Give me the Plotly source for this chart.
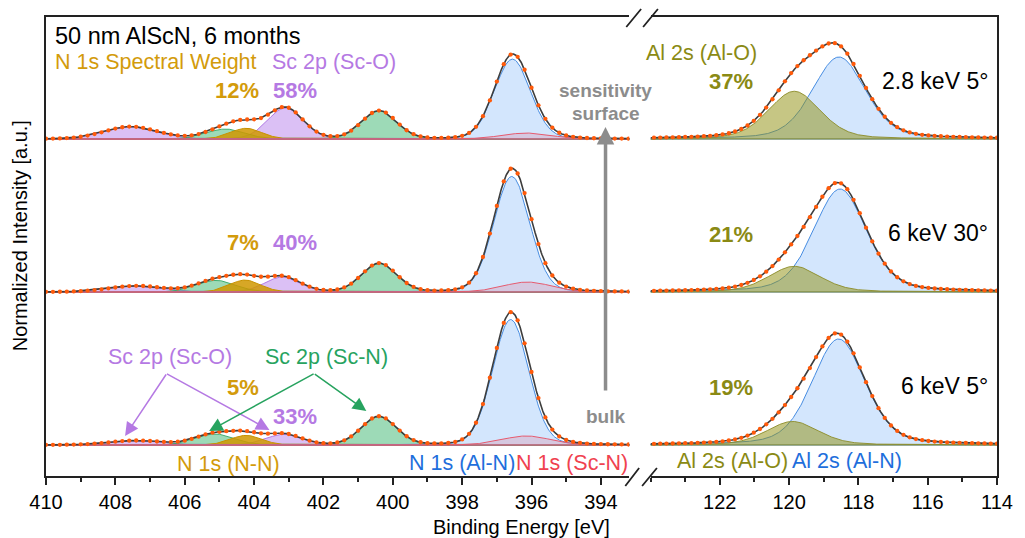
import numpy as np
import plotly.graph_objects as go

# ---------------- data ----------------
# spectra order: bottom, middle, top
spectrum_labels = ["6 keV 5°", "6 keV 30°", "2.8 keV 5°"]
offsets = [0.0, 1.0, 2.0]

# N 1s / Sc 2p region components: centers [eV], heights [norm.], FWHM [eV]
sco_a_center = [407.4, 407.4, 407.55]
sco_a_height = [0.028, 0.039, 0.080]
sco_a_fwhm = 1.8

scn_a_center = [405.13, 405.1, 404.83]
scn_a_height = [0.072, 0.076, 0.065]
scn_a_fwhm = 1.3

nn_center = [404.23, 404.26, 404.23]
nn_height = [0.063, 0.078, 0.070]
nn_fwhm = 1.05

sco_b_center = [403.14, 403.18, 403.1]
sco_b_height = [0.070, 0.098, 0.203]
sco_b_fwhm = 1.2

scn_b_center = [400.4, 400.39, 400.39]
scn_b_height = [0.185, 0.186, 0.183]
scn_b_fwhm = 1.18

aln_n_center = [396.6, 396.57, 396.55]
aln_n_height = [0.82, 0.755, 0.522]
aln_n_fwhm = 1.22

scn_n_center = [396.15, 396.12, 396.15]
scn_n_height = [0.059, 0.065, 0.039]
scn_n_fwhm = 1.65

# Al 2s region components
alo_center = [119.9, 119.85, 119.85]
alo_height = [0.154, 0.168, 0.312]
alo_fwhm = 1.76

aln_al_center = [118.57, 118.53, 118.56]
aln_al_height = [0.693, 0.673, 0.536]
aln_al_fwhm = 1.8

# percentages
n1s_weight_pct = ["5%", "7%", "12%"]
sco_pct = ["33%", "40%", "58%"]
alo_pct = ["19%", "21%", "37%"]

left_range = [410, 393.125]
right_range = [124, 114]
left_ticks = [410, 408, 406, 404, 402, 400, 398, 396, 394]
right_ticks = [122, 120, 118, 116, 114]

# ---------------- styling ----------------
FONT = "Liberation Sans, Arial, sans-serif"
GOLD = "#d39b0b"
PURPLE = "#b579e3"
GREEN = "#27a35f"
BLUE = "#1f6fdc"
RED = "#f0424f"
OLIVE = "#8a8a14"
GRAY = "#8c8c8c"

L, R, T, B = 46, 17, 17, 62
W, H = 1025, 538
PW, PH = W - L - R, H - T - B


def px(x):
    return (x - L) / PW


def py(y):
    return (H - B - y) / PH


def pvoigt(x, c, h, f, eta):
    d2 = 4.0 * (x - c) ** 2 / f ** 2
    return h * ((1 - eta) * np.exp(-np.log(2) * d2) + eta / (1 + d2))


fig = go.Figure()

xl = np.arange(393.0, 410.001, 0.02)
xl_dots = np.arange(393.0, 410.001, 0.2)
xr = np.arange(114.0, 124.001, 0.02)
xr_dots = np.arange(114.0, 124.001, 0.18)

left_comps = [
    (sco_a_center, sco_a_height, sco_a_fwhm, "rgba(190,140,236,0.55)", "rgba(170,110,225,0.9)"),
    (sco_b_center, sco_b_height, sco_b_fwhm, "rgba(190,140,236,0.55)", "rgba(170,110,225,0.9)"),
    (scn_a_center, scn_a_height, scn_a_fwhm, "rgba(60,182,112,0.5)", "rgba(50,165,100,0.9)"),
    (scn_b_center, scn_b_height, scn_b_fwhm, "rgba(60,182,112,0.5)", "rgba(50,165,100,0.9)"),
    (nn_center, nn_height, nn_fwhm, "rgba(208,152,0,0.85)", "rgba(200,145,0,1)"),
    (aln_n_center, aln_n_height, aln_n_fwhm, "rgba(150,195,250,0.42)", "rgba(70,140,225,1)"),
    (scn_n_center, scn_n_height, scn_n_fwhm, "rgba(225,110,140,0.25)", "rgba(230,90,110,1)"),
]
right_comps = [
    (aln_al_center, aln_al_height, aln_al_fwhm, "rgba(150,195,250,0.42)", "rgba(70,140,225,1)"),
    (alo_center, alo_height, alo_fwhm, "rgba(145,145,20,0.52)", "rgba(140,140,40,0.9)"),
]

for i, off in enumerate(offsets):
    # left panel
    total_l = np.zeros_like(xl)
    total_ld = np.zeros_like(xl_dots)
    for cen, hei, fw, fc, lc in left_comps:
        y = pvoigt(xl, cen[i], hei[i], fw, 0.1)
        total_l += y
        total_ld += pvoigt(xl_dots, cen[i], hei[i], fw, 0.1)
        fig.add_trace(go.Scatter(
            x=np.concatenate([xl, xl[::-1]]),
            y=np.concatenate([y + off, np.full_like(xl, off)]),
            fill="toself", fillcolor=fc, mode="lines",
            line=dict(color=lc, width=1), xaxis="x", yaxis="y",
            hoverinfo="skip", showlegend=False))
    fig.add_trace(go.Scatter(x=xl, y=total_l + off, mode="lines",
                             line=dict(color="#3d3d3d", width=1.6),
                             xaxis="x", yaxis="y", showlegend=False))
    fig.add_trace(go.Scatter(x=xl_dots, y=total_ld + off, mode="markers",
                             marker=dict(color="#ff5a0a", size=4.3),
                             xaxis="x", yaxis="y", showlegend=False))
    # right panel
    total_r = np.zeros_like(xr)
    total_rd = np.zeros_like(xr_dots)
    for cen, hei, fw, fc, lc in right_comps:
        y = pvoigt(xr, cen[i], hei[i], fw, 0.3)
        total_r += y
        total_rd += pvoigt(xr_dots, cen[i], hei[i], fw, 0.3)
        fig.add_trace(go.Scatter(
            x=np.concatenate([xr, xr[::-1]]),
            y=np.concatenate([y + off, np.full_like(xr, off)]),
            fill="toself", fillcolor=fc, mode="lines",
            line=dict(color=lc, width=1), xaxis="x2", yaxis="y2",
            hoverinfo="skip", showlegend=False))
    fig.add_trace(go.Scatter(x=xr, y=total_r + off, mode="lines",
                             line=dict(color="#3d3d3d", width=1.6),
                             xaxis="x2", yaxis="y2", showlegend=False))
    fig.add_trace(go.Scatter(x=xr_dots, y=total_rd + off, mode="markers",
                             marker=dict(color="#ff5a0a", size=4.3),
                             xaxis="x2", yaxis="y2", showlegend=False))

ann = []


def label(text, x, y, color, size=21, bold=False, anchor="left"):
    if bold:
        text = "<b>" + text + "</b>"
    ann.append(dict(text=text, x=px(x), y=py(y), xref="paper", yref="paper",
                    xanchor=anchor, yanchor="middle", showarrow=False,
                    font=dict(family=FONT, size=size, color=color)))


label("50 nm AlScN, 6 months", 53, 36, "black", 23.5)
label("N 1s Spectral Weight", 53, 62, GOLD, 21.5)
label("Sc 2p (Sc-O)", 273, 62, PURPLE, 21.5)

label(n1s_weight_pct[2], 263, 90, GOLD, 22, True, "right")
label(sco_pct[2], 274, 90, PURPLE, 22, True, "left")
label(n1s_weight_pct[1], 263, 242, GOLD, 22, True, "right")
label(sco_pct[1], 274, 242, PURPLE, 22, True, "left")
label(n1s_weight_pct[0], 263, 387, GOLD, 22, True, "right")
label(sco_pct[0], 274, 416, PURPLE, 22, True, "left")

label("Al 2s (Al-O)", 651, 53, OLIVE, 21.5)
label(alo_pct[2], 763, 81, OLIVE, 22, True, "right")
label(alo_pct[1], 763, 234, OLIVE, 22, True, "right")
label(alo_pct[0], 763, 387, OLIVE, 22, True, "right")

label(spectrum_labels[2], 1001, 81, "black", 23, False, "right")
label(spectrum_labels[1], 1001, 233, "black", 23, False, "right")
label(spectrum_labels[0], 1001, 386, "black", 23, False, "right")

label("Sc 2p (Sc-O)", 171, 357, PURPLE, 21.5, False, "center")
label("Sc 2p (Sc-N)", 330, 357, GREEN, 21.5, False, "center")
label("N 1s (N-N)", 231, 464, GOLD, 21.5, False, "center")
label("N 1s (Al-N)", 467, 463, BLUE, 21.5, False, "center")
label("N 1s (Sc-N)", 578, 463, RED, 21.5, False, "center")
label("Al 2s (Al-O)", 740, 461, OLIVE, 21.5, False, "center")
label("Al 2s (Al-N)", 856, 461, BLUE, 21.5, False, "center")

label("sensitivity", 612, 90, GRAY, 19, True, "center")
label("surface", 612, 114, GRAY, 19, True, "center")
label("bulk", 612, 416, GRAY, 19, True, "center")

# axis titles
ann.append(dict(text="Binding Energy [eV]", x=px(527), y=py(527), xref="paper", yref="paper",
                xanchor="center", yanchor="middle", showarrow=False,
                font=dict(family=FONT, size=20, color="black")))
ann.append(dict(text="Normalized Intensity [a.u.]", x=px(20), y=py(236), xref="paper", yref="paper",
                xanchor="center", yanchor="middle", showarrow=False, textangle=-90,
                font=dict(family=FONT, size=20, color="black")))


def arrow(x0, y0, x1, y1, color, width, size):
    ann.append(dict(text="", x=px(x1), y=py(y1), xref="paper", yref="paper",
                    ax=x0 - x1, ay=y0 - y1, axref="pixel", ayref="pixel",
                    showarrow=True, arrowhead=2, arrowsize=size, arrowwidth=width,
                    arrowcolor=color))


arrow(612, 392, 612, 127, GRAY, 3.5, 1.0)
arrow(168, 373, 126, 436, PURPLE, 1.5, 1.8)
arrow(168, 373, 272, 430, PURPLE, 1.5, 1.8)
arrow(317, 373, 211, 431, GREEN, 1.5, 1.8)
arrow(317, 373, 370, 411, GREEN, 1.5, 1.8)

# axis break marks (drawn as a single path in paper coordinates)
path = ""
for (x0, y0, x1, y1) in [(632, 486, 646, 468), (649, 486, 664, 468),
                         (633, 27, 648, 9), (650, 27, 665, 9)]:
    path += "M{:.5f},{:.5f} L{:.5f},{:.5f} ".format(px(x0), py(y0), px(x1), py(y1))
shapes = [dict(type="path", xref="paper", yref="paper", layer="above", path=path.strip(),
               line=dict(color="#222", width=1.8))]

xcommon = dict(showline=True, linecolor="#222", linewidth=1.5, mirror=True,
               ticks="outside", ticklen=7, tickwidth=1.5, tickcolor="#222",
               showgrid=False, zeroline=False,
               tickfont=dict(family=FONT, size=20, color="black"),
               minor=dict(ticks="outside", ticklen=4, tickwidth=1.5, dtick=1, tickcolor="#222"))
y_lo = -(476 - 445) / 153.0
y_hi = (445 - 17) / 153.0

fig.update_layout(
    width=W, height=H,
    margin=dict(l=L, r=R, t=T, b=B),
    paper_bgcolor="white", plot_bgcolor="white",
    showlegend=False,
    xaxis=dict(domain=[0, px(636)], range=[410, 410 - 590 / 35.08], anchor="y",
               tickmode="array", tickvals=left_ticks, **xcommon),
    xaxis2=dict(domain=[px(657.5), 1], range=right_range, anchor="y2",
                tickmode="array", tickvals=right_ticks, **xcommon),
    yaxis=dict(range=[y_lo, y_hi], showline=True, linecolor="#222", linewidth=1.5,
               showticklabels=False, ticks="", showgrid=False, zeroline=False, anchor="x"),
    yaxis2=dict(range=[y_lo, y_hi], showline=True, linecolor="#222", linewidth=1.5,
                showticklabels=False, ticks="", showgrid=False, zeroline=False,
                anchor="x2", side="right"),
    annotations=ann,
    shapes=shapes,
)

fig.write_html("out.html", config={"displayModeBar": False},
               post_script="document.body.style.margin='0px';")
